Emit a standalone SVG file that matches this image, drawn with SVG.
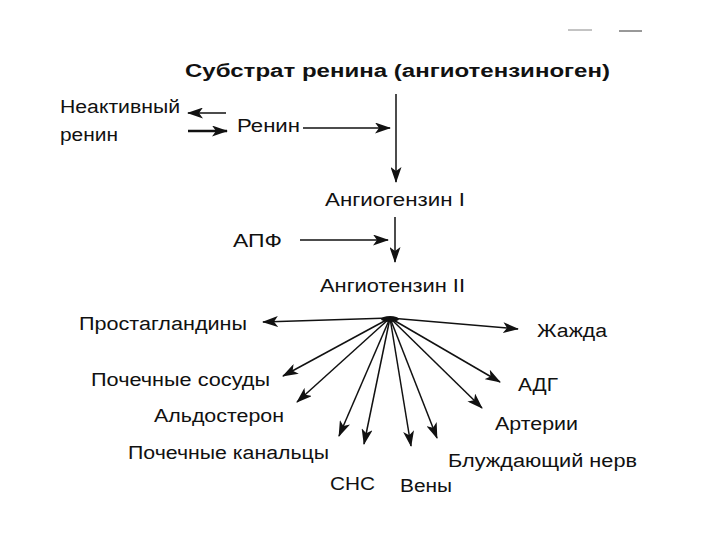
<svg xmlns="http://www.w3.org/2000/svg" width="720" height="540" viewBox="0 0 720 540">
<style>
text{font-family:"Liberation Sans",Arial,sans-serif;font-size:18px;fill:#111}
.title{font-weight:bold;font-size:18px}
.ln{stroke:#111;stroke-width:1.5;fill:none}
</style>
<defs>
<marker id="ah" markerUnits="userSpaceOnUse" markerWidth="16" markerHeight="11" refX="15" refY="5.5" orient="auto">
<path d="M0,0 L16,5.5 L0,11 L4,5.5 z" fill="#111"/>
</marker>
</defs>
<rect width="720" height="540" fill="#fff"/>
<g id="marks">
<line x1="568" y1="30" x2="592" y2="30" stroke="#888" stroke-width="1"/>
<line x1="619" y1="31" x2="642" y2="31" stroke="#333" stroke-width="1"/>
</g>
<g id="n-substrate"><text class="title" x="185" y="77" textLength="425" lengthAdjust="spacingAndGlyphs">Субстрат ренина (ангиотензиноген)</text></g>
<g id="n-inactive"><text x="60" y="113" textLength="120" lengthAdjust="spacingAndGlyphs">Неактивный</text><text x="60" y="141" textLength="58" lengthAdjust="spacingAndGlyphs">ренин</text></g>
<g id="n-renin"><text x="237" y="132" textLength="63" lengthAdjust="spacingAndGlyphs">Ренин</text></g>
<g id="n-ang1"><text x="325" y="206" textLength="140" lengthAdjust="spacingAndGlyphs">Ангиогензин I</text></g>
<g id="n-apf"><text x="233" y="247" textLength="49" lengthAdjust="spacingAndGlyphs">АПФ</text></g>
<g id="n-ang2"><text x="320" y="292" textLength="145" lengthAdjust="spacingAndGlyphs">Ангиотензин II</text></g>
<g id="n-prost"><text x="79" y="330" textLength="168" lengthAdjust="spacingAndGlyphs">Простагландины</text></g>
<g id="n-thirst"><text x="537" y="337" textLength="70" lengthAdjust="spacingAndGlyphs">Жажда</text></g>
<g id="n-renvessels"><text x="91" y="386" textLength="179" lengthAdjust="spacingAndGlyphs">Почечные сосуды</text></g>
<g id="n-adh"><text x="518" y="391" textLength="40" lengthAdjust="spacingAndGlyphs">АДГ</text></g>
<g id="n-aldo"><text x="154" y="422" textLength="130" lengthAdjust="spacingAndGlyphs">Альдостерон</text></g>
<g id="n-arteries"><text x="495" y="430" textLength="83" lengthAdjust="spacingAndGlyphs">Артерии</text></g>
<g id="n-tubules"><text x="128" y="459" textLength="201" lengthAdjust="spacingAndGlyphs">Почечные канальцы</text></g>
<g id="n-vagus"><text x="448" y="467" textLength="189" lengthAdjust="spacingAndGlyphs">Блуждающий нерв</text></g>
<g id="n-sns"><text x="330" y="490" textLength="45" lengthAdjust="spacingAndGlyphs">СНС</text></g>
<g id="n-veins"><text x="400" y="492" textLength="52" lengthAdjust="spacingAndGlyphs">Вены</text></g>
<g id="connectors" class="ln">
<line x1="396" y1="94" x2="396" y2="182" marker-end="url(#ah)"/>
<line x1="226" y1="113" x2="188" y2="113" marker-end="url(#ah)"/>
<line x1="188" y1="131" x2="227" y2="131" stroke-width="2.5" marker-end="url(#ah)"/>
<line x1="303" y1="128" x2="390" y2="128" marker-end="url(#ah)"/>
<line x1="395" y1="217" x2="395" y2="262" marker-end="url(#ah)"/>
<line x1="300" y1="240" x2="388" y2="240" marker-end="url(#ah)"/>
<ellipse cx="390" cy="319" rx="9" ry="3" fill="#111" stroke="none"/>
<line x1="390" y1="318" x2="263" y2="322" marker-end="url(#ah)"/>
<line x1="390" y1="318" x2="518" y2="329" marker-end="url(#ah)"/>
<line x1="390" y1="318" x2="283" y2="376" marker-end="url(#ah)"/>
<line x1="390" y1="318" x2="297" y2="402" marker-end="url(#ah)"/>
<line x1="390" y1="318" x2="339" y2="436" marker-end="url(#ah)"/>
<line x1="390" y1="318" x2="364" y2="444" marker-end="url(#ah)"/>
<line x1="390" y1="318" x2="411" y2="446" marker-end="url(#ah)"/>
<line x1="390" y1="318" x2="437" y2="438" marker-end="url(#ah)"/>
<line x1="390" y1="318" x2="482" y2="408" marker-end="url(#ah)"/>
<line x1="390" y1="318" x2="500" y2="382" marker-end="url(#ah)"/>
</g>
</svg>
